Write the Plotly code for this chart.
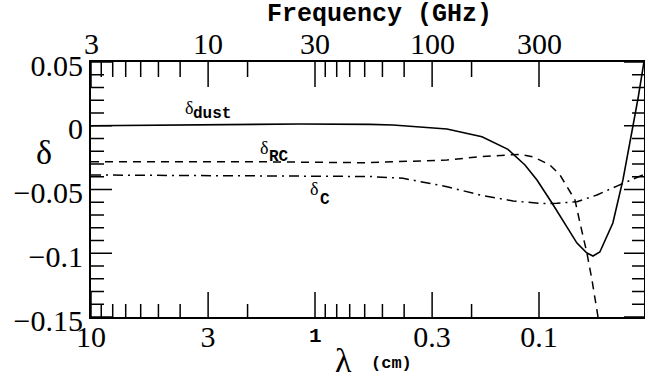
import math
import plotly.graph_objects as go

# ---- data ----
lam_dust = [10, 3.26, 1.167, 0.568, 0.449, 0.2576, 0.1797, 0.1376, 0.1155, 0.1021, 0.0875,
            0.0677, 0.0611, 0.0574, 0.0535, 0.0468, 0.0422, 0.0380, 0.0361, 0.0340]
delta_dust = [0.0, 0.0005, 0.0014, 0.0011, 0.0006, -0.0025, -0.0086, -0.0185, -0.0308, -0.0425, -0.0606,
              -0.092, -0.0998, -0.1022, -0.099, -0.0763, -0.0425, 0.0006, 0.0218, 0.05]

lam_rc = [10, 1.95, 0.611, 0.2576, 0.1835, 0.1348, 0.1216, 0.1064, 0.0893, 0.0806, 0.0727,
          0.0691, 0.0656, 0.0611, 0.058, 0.0545]
delta_rc = [-0.0282, -0.0282, -0.029, -0.0269, -0.0243, -0.0229, -0.0224, -0.0243, -0.0308, -0.0386, -0.0517,
            -0.0582, -0.0763, -0.0998, -0.121, -0.15]

lam_c = [10, 1.95, 0.568, 0.405, 0.2576, 0.1835, 0.1306, 0.096, 0.0831, 0.0677, 0.0551, 0.0449, 0.0344]
delta_c = [-0.0386, -0.0394, -0.0398, -0.0412, -0.0478, -0.0543, -0.059, -0.061, -0.0608, -0.0596,
           -0.0543, -0.0473, -0.0386]

lam_ticks = [10, 3, 1, 0.3, 0.1]
lam_ticktext = ["10", "3", "1", "0.3", "0.1"]
lam_minor = [9, 8, 7, 6, 5, 4, 2, 0.9, 0.8, 0.7, 0.6, 0.5, 0.4, 0.2]
freq_ticktext = ["3", "10", "30", "100", "300"]   # frequency (GHz) = 30 / lambda (cm)
delta_ticks = [0.05, 0, -0.05, -0.1, -0.15]
delta_ticktext = ["0.05", "0", "\u22120.05", "\u22120.1", "\u22120.15"]
delta_minor = [0.04, 0.03, 0.02, 0.01, -0.01, -0.02, -0.03, -0.04, -0.06, -0.07, -0.08, -0.09,
               -0.11, -0.12, -0.13, -0.14]

SERIF = "Liberation Serif"
MONO = "Liberation Mono"

W, H = 645, 379
ML, MR, MT, MB = 91, 1, 62, 62
PW, PH = W - ML - MR, H - MT - MB
PX_PER_DECADE = 224

xrange = [1, 1 - PW / PX_PER_DECADE]      # log10(lambda), reversed: 10 cm at left
yrange = [-0.15, 0.05]
lam_left, lam_right = 10 ** xrange[0], 10 ** xrange[1]
dy_per_px = (yrange[1] - yrange[0]) / PH

# the "1" label is set in bold typewriter type in the reference; drawn as its own text below
lam_ticktext_plain = [t if t != "1" else "" for t in lam_ticktext]

fig = go.Figure()
fig.add_trace(go.Scatter(x=lam_dust, y=delta_dust, mode="lines",
                         line=dict(color="black", width=1.6), showlegend=False, hoverinfo="skip"))
fig.add_trace(go.Scatter(x=lam_rc, y=delta_rc, mode="lines",
                         line=dict(color="black", width=1.5, dash="8px,6px"), showlegend=False, hoverinfo="skip"))
fig.add_trace(go.Scatter(x=lam_c, y=delta_c, mode="lines",
                         line=dict(color="black", width=1.5, dash="10px,5px,2px,5px"), showlegend=False,
                         hoverinfo="skip"))

# inward tick marks on all four sides, built from the tick value lists (one trace per tick)
def tick(xs, ys):
    fig.add_trace(go.Scatter(x=xs, y=ys, mode="lines", line=dict(color="black", width=1.5, simplify=False),
                             showlegend=False, hoverinfo="skip", cliponaxis=False))

for vals, blen, tlen in ((lam_ticks, 25, 25), (lam_minor, 13, 15)):
    for lam in vals:
        tick([lam, lam], [yrange[0], yrange[0] + blen * dy_per_px])
        tick([lam, lam], [yrange[1], yrange[1] - tlen * dy_per_px])
for vals, llen, rlen in ((delta_ticks, 21, 20), (delta_minor, 13, 12)):
    for d in vals:
        tick([lam_left, lam_left * 10 ** (-llen / PX_PER_DECADE)], [d, d])
        tick([lam_right, lam_right * 10 ** (rlen / PX_PER_DECADE)], [d, d])

fig.update_layout(
    template="none",
    width=W, height=H,
    margin=dict(l=ML, r=MR, t=MT, b=MB),
    paper_bgcolor="white", plot_bgcolor="white",
    xaxis=dict(type="log", range=xrange, tickmode="array", tickvals=lam_ticks, ticktext=lam_ticktext_plain,
               ticks="", showline=True, linecolor="black", linewidth=2, mirror=True,
               showgrid=False, zeroline=False, ticklabelstandoff=-8,
               tickfont=dict(family=SERIF, size=30, color="black")),
    yaxis=dict(range=yrange, tickmode="array", tickvals=delta_ticks, ticktext=delta_ticktext,
               ticks="", showline=True, linecolor="black", linewidth=2, mirror=True,
               showgrid=False, zeroline=False, ticklabelshift=3,
               tickfont=dict(family=SERIF, size=30, color="black")),
)

# top (frequency) tick labels, at the same positions as the wavelength ticks
for lam, ftxt in zip(lam_ticks, freq_ticktext):
    fig.add_annotation(x=math.log10(lam), y=1, xref="x", yref="paper", yshift=19, text=ftxt,
                       showarrow=False, xanchor="center", yanchor="middle",
                       font=dict(family=SERIF, size=30, color="black"))

# curve labels
labels = [
    ("\u03b4", 3.885, 0.0139, "dust", 3.58, 0.0096),
    ("\u03b4", 1.797, -0.0171, "RC", 1.638, -0.0245),
    ("\u03b4", 1.075, -0.0496, "C", 0.9696, -0.0582),
]
for g, gx, gy, sub, sx, sy in labels:
    fig.add_annotation(x=math.log10(gx), y=gy, xref="x", yref="y", text=g, showarrow=False,
                       xanchor="left", yanchor="middle", font=dict(family=SERIF, size=18, color="black"))
    fig.add_annotation(x=math.log10(sx), y=sy, xref="x", yref="y", text="<b>" + sub + "</b>", showarrow=False,
                       xanchor="left", yanchor="middle", font=dict(family=MONO, size=16, color="black"))

# bold "1" wavelength tick label
fig.add_annotation(x=math.log10(1), y=0, xref="x", yref="paper", yshift=-19, text="<b>1</b>", showarrow=False,
                   xanchor="center", yanchor="middle", font=dict(family=MONO, size=21, color="black"))

# axis titles
fig.add_annotation(x=-0.085, y=0.647, xref="paper", yref="paper", text="\u03b4", showarrow=False,
                   xanchor="center", yanchor="middle", font=dict(family=SERIF, size=34, color="black"))
fig.add_annotation(x=0.4557, y=-0.17, xref="paper", yref="paper", text="\u03bb", showarrow=False,
                   xanchor="center", yanchor="middle", font=dict(family=SERIF, size=34, color="black"))
fig.add_annotation(x=0.544, y=-0.184, xref="paper", yref="paper", text="<b>(cm)</b>", showarrow=False,
                   xanchor="center", yanchor="middle", font=dict(family=MONO, size=17, color="black"))
fig.add_annotation(x=0.5226, y=1.188, xref="paper", yref="paper", text="<b>Frequency (GHz)</b>",
                   xanchor="center", yanchor="middle",
                   showarrow=False, font=dict(family=MONO, size=25, color="black"))

fig.write_html("out.html")
